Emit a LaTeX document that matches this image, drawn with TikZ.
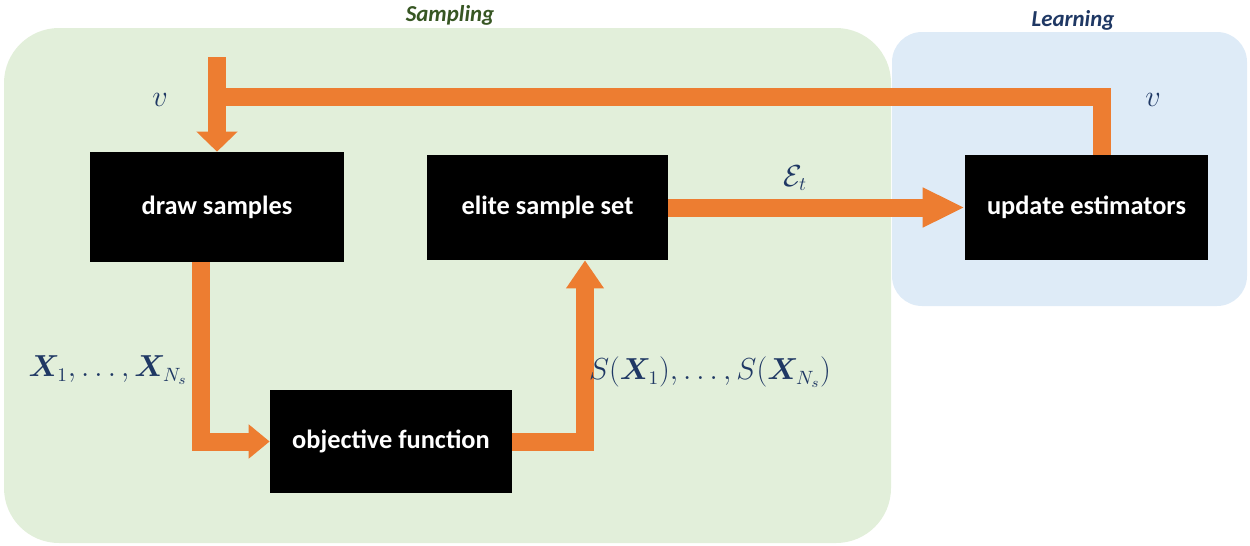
\documentclass[tikz,border=0pt]{standalone}
\usepackage[no-math]{fontspec}
\usepackage{amsmath}
\usepackage{bm}
\setmainfont{Carlito}
\usetikzlibrary{arrows.meta}

\definecolor{flowor}{HTML}{ED7D31}
\definecolor{sampbg}{HTML}{E2EFDA}
\definecolor{learnbg}{HTML}{DEEBF7}
\definecolor{labnavy}{HTML}{1F3864}
\definecolor{sampgreen}{HTML}{375623}

\tikzset{
  blockbox/.style={fill=black, text=white, font=\fontsize{15}{18}\selectfont\bfseries,
    minimum width=4.84cm, minimum height=2.1cm, inner sep=0pt},
  flow/.style={draw=flowor, line width=0.36cm},
  mathlab/.style={text=labnavy, font=\fontsize{16}{19}\selectfont, inner sep=0pt},
  regiontitle/.style={font=\fontsize{13}{16}\selectfont\bfseries\itshape, inner sep=0pt},
}

\begin{document}
\begin{tikzpicture}[x=0.02cm,y=-0.02cm]
  \useasboundingbox (0,0) rectangle (1250,545);

  % regions
  \fill[sampbg, rounded corners=1.1cm] (4,28) rectangle (891,543);
  \fill[learnbg, rounded corners=0.6cm] (892,32) rectangle (1247,306);
  \node[regiontitle, text=sampgreen] (sampT) at (450,15) {Sampling};
  \node[regiontitle, text=labnavy] (learnT) at (1073,20) {Learning};

  % blocks
  \node[blockbox, minimum width=5.08cm, minimum height=2.2cm] (draw) at (217,207) {draw samples};
  \node[blockbox, minimum width=4.82cm] (elite) at (547.5,207.5) {elite sample set};
  \node[blockbox, minimum width=4.86cm] (upd) at (1086.5,207.5) {update estimators};
  \node[blockbox, minimum height=2.06cm] (obj) at (391,441.5) {objective function};

  \coordinate (vtop) at (217,57);
  \coordinate (vjoin) at (217,97);

  % connectors
  \draw[flow] ([xshift=0.31cm]upd.north) |- (vjoin);
  \draw[flow, -{Triangle[width=0.8cm,length=0.4cm]}] (vtop) -- (draw.north);
  \draw[flow, -{Triangle[width=0.66cm,length=0.42cm]}] ([xshift=-0.32cm]draw.south) |- (obj.west);
  \draw[flow, -{Triangle[width=0.72cm,length=0.56cm]}] (obj.east) -| ([xshift=0.75cm]elite.south);
  \draw[flow, -{Triangle[width=0.74cm,length=0.84cm]}] (elite.east) -- (upd.west);

  % labels
  \node[mathlab] (lblV) at (160,100) {$v$};
  \node[mathlab] (lblVr) at (1153,100) {$v$};
  \node[mathlab] (lblE) at (795,178) {$\mathcal{E}_t$};
  \node[mathlab] (lblX) at (108,370) {$\bm{X}_1,\dots,\bm{X}_{N_s}$};
  \node[mathlab] (lblS) at (710,372) {$S(\bm{X}_1),\dots,S(\bm{X}_{N_s})$};
\end{tikzpicture}
\end{document}
